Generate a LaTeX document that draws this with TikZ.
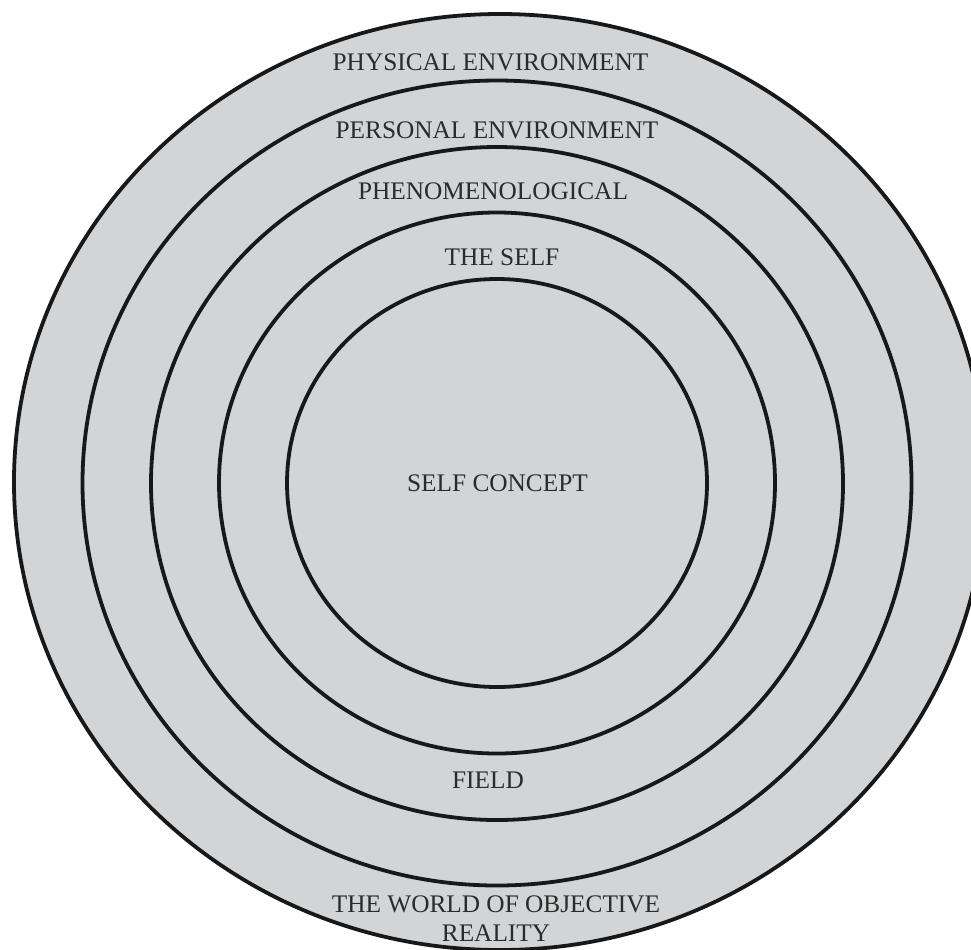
\documentclass[tikz,border=0pt]{standalone}
\usepackage{fontspec}
\setmainfont{Liberation Serif}
\definecolor{ringFill}{RGB}{211,212,214}
\definecolor{ringLine}{HTML}{181818}
\definecolor{labelText}{HTML}{2B2B2B}

\begin{document}
\begin{tikzpicture}[
    x=0.025cm, y=-0.025cm,
    ring/.style={draw=ringLine, line width=2.7pt},
    lbl/.style={font=\fontsize{18}{21}\selectfont, text=labelText,
                inner sep=0pt, align=center},
  ]
    \useasboundingbox (0,0) rectangle (971,949);
    \clip (0,0) rectangle (971,949);

    % rings, outermost first
    \draw[ring, fill=ringFill] (500,482) ellipse [x radius=486, y radius=468];
    \draw[ring] (497,483) ellipse [x radius=414.5, y radius=402.5];
    \draw[ring] (497,483.5) ellipse [x radius=346, y radius=336.5];
    \draw[ring] (497,483) ellipse [x radius=278, y radius=270.5];
    \draw[ring] (497,483) ellipse [x radius=210, y radius=204];

    % labels
    \node[lbl] (physical) at (490.5,62) {PHYSICAL ENVIRONMENT};
    \node[lbl] (personal) at (497,130.5) {PERSONAL ENVIRONMENT};
    \node[lbl] (phenom) at (493,191) {PHENOMENOLOGICAL};
    \node[lbl] (self) at (502,257) {THE SELF};
    \node[lbl] (concept) at (497.5,483) {SELF CONCEPT};
    \node[lbl] (field) at (488,780.5) {FIELD};
    \node[lbl] (world) at (496,918.5) {THE WORLD OF OBJECTIVE\\REALITY};
  \end{tikzpicture}
\end{document}
